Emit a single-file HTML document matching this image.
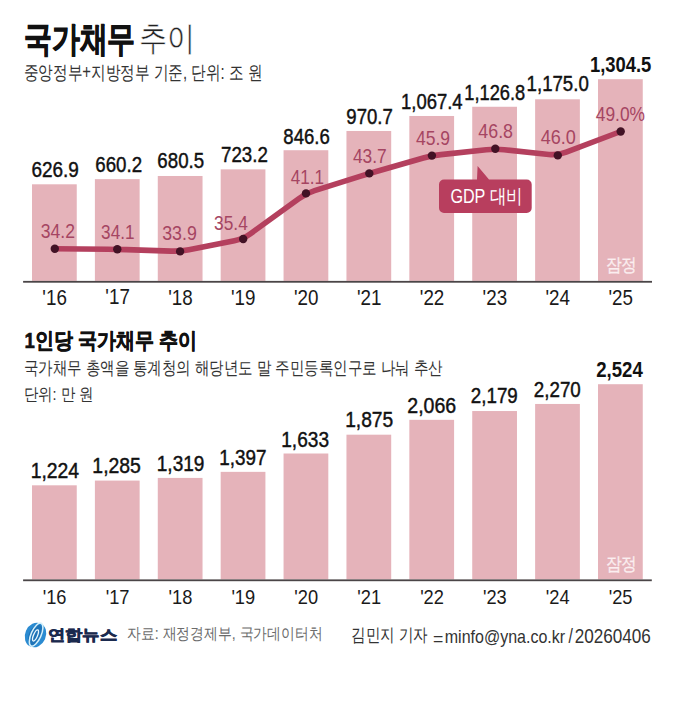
<!DOCTYPE html>
<html><head><meta charset="utf-8"><style>
html,body{margin:0;padding:0;background:#fff;}
svg{display:block;}
text{font-family:"Liberation Sans", sans-serif;}
</style></head><body>
<svg width="676" height="720" viewBox="0 0 676 720">
<rect width="676" height="720" fill="#fff"/>
<rect x="32.00" y="184.30" width="44.75" height="96.60" fill="#e5b3ba"/>
<rect x="94.89" y="179.14" width="44.75" height="101.76" fill="#e5b3ba"/>
<rect x="157.78" y="175.99" width="44.75" height="104.91" fill="#e5b3ba"/>
<rect x="220.67" y="169.36" width="44.75" height="111.54" fill="#e5b3ba"/>
<rect x="283.56" y="150.22" width="44.75" height="130.68" fill="#e5b3ba"/>
<rect x="346.45" y="130.97" width="44.75" height="149.93" fill="#e5b3ba"/>
<rect x="409.34" y="115.98" width="44.75" height="164.92" fill="#e5b3ba"/>
<rect x="472.23" y="106.76" width="44.75" height="174.14" fill="#e5b3ba"/>
<rect x="535.12" y="99.29" width="44.75" height="181.61" fill="#e5b3ba"/>
<rect x="598.01" y="79.20" width="44.75" height="201.70" fill="#e5b3ba"/>
<rect x="23.1" y="280.90" width="628.9" height="1.8" fill="#4a4547"/>
<rect x="32.00" y="485.31" width="44.75" height="94.09" fill="#e5b3ba"/>
<rect x="94.89" y="480.57" width="44.75" height="98.83" fill="#e5b3ba"/>
<rect x="157.78" y="477.92" width="44.75" height="101.48" fill="#e5b3ba"/>
<rect x="220.67" y="471.86" width="44.75" height="107.54" fill="#e5b3ba"/>
<rect x="283.56" y="453.50" width="44.75" height="125.90" fill="#e5b3ba"/>
<rect x="346.45" y="434.68" width="44.75" height="144.72" fill="#e5b3ba"/>
<rect x="409.34" y="419.83" width="44.75" height="159.57" fill="#e5b3ba"/>
<rect x="472.23" y="411.04" width="44.75" height="168.36" fill="#e5b3ba"/>
<rect x="535.12" y="403.96" width="44.75" height="175.44" fill="#e5b3ba"/>
<rect x="598.01" y="384.21" width="44.75" height="195.19" fill="#e5b3ba"/>
<rect x="23.1" y="579.40" width="628.7" height="1.8" fill="#4a4547"/>
<path d="M54.80,248.80 L108.30,249.23 Q117.30,249.30 126.29,249.60 L171.11,251.10 Q180.10,251.40 188.93,249.66 L234.37,240.74 Q243.20,239.00 250.48,233.71 L298.72,198.69 Q306.00,193.40 314.58,190.69 L360.72,176.11 Q369.30,173.40 377.96,170.94 L423.24,158.06 Q431.90,155.60 440.85,154.64 L486.35,149.76 Q495.30,148.80 504.25,149.75 L548.85,154.45 Q557.80,155.40 566.21,152.20 L620.70,131.50" fill="none" stroke="#b4405e" stroke-width="5.6" stroke-linejoin="round" stroke-linecap="round"/>
<circle cx="54.80" cy="248.80" r="4.2" fill="#421225"/><circle cx="117.30" cy="249.30" r="4.2" fill="#421225"/><circle cx="180.10" cy="251.40" r="4.2" fill="#421225"/><circle cx="243.20" cy="239.00" r="4.2" fill="#421225"/><circle cx="306.00" cy="193.40" r="4.2" fill="#421225"/><circle cx="369.30" cy="173.40" r="4.2" fill="#421225"/><circle cx="431.90" cy="155.60" r="4.2" fill="#421225"/><circle cx="495.30" cy="148.80" r="4.2" fill="#421225"/><circle cx="557.80" cy="155.40" r="4.2" fill="#421225"/><circle cx="620.70" cy="131.50" r="4.2" fill="#421225"/>
<path d="M444,179.5 H477 L477.6,166 L489,179.5 H526.7 a5,5 0 0 1 5,5 V208 a5,5 0 0 1 -5,5 H444 a5,5 0 0 1 -5,-5 V184.5 a5,5 0 0 1 5,-5 Z" fill="#b83e5e"/>
<g transform="translate(35.5 635) rotate(24)">
<ellipse cx="0" cy="0" rx="10.4" ry="12.6" fill="#2b8bd1"/>
<ellipse cx="-0.3" cy="0" rx="6.3" ry="11.0" fill="#1f74b8"/>
<ellipse cx="0.4" cy="-0.6" rx="5.0" ry="12.4" fill="none" stroke="#d6f1fb" stroke-width="1.5"/>
<ellipse cx="0.2" cy="0.4" rx="2.0" ry="6.0" fill="none" stroke="#e9f7fd" stroke-width="1.3"/>
</g>
<text x="23.83" y="50.80" font-size="35.0" textLength="111.44" lengthAdjust="spacingAndGlyphs" font-weight="bold" fill="#111" stroke="#111" stroke-width="0.9">국가채무</text>
<text x="138.93" y="49.75" font-size="34.2" textLength="56.29" lengthAdjust="spacingAndGlyphs" font-weight="normal" fill="#222" stroke="#fff" stroke-width="0.5">추이</text>
<text x="23.77" y="79.27" font-size="19.3" textLength="238.40" lengthAdjust="spacingAndGlyphs" font-weight="normal" fill="#333">중앙정부+지방정부 기준, 단위: 조 원</text>
<text x="31.45" y="177.24" font-size="22.2" textLength="47.45" lengthAdjust="spacingAndGlyphs" font-weight="normal" fill="#111" stroke="#111" stroke-width="0.45">626.9</text>
<text x="95.26" y="171.54" font-size="22.2" textLength="46.82" lengthAdjust="spacingAndGlyphs" font-weight="normal" fill="#111" stroke="#111" stroke-width="0.45">660.2</text>
<text x="157.37" y="167.94" font-size="22.2" textLength="46.73" lengthAdjust="spacingAndGlyphs" font-weight="normal" fill="#111" stroke="#111" stroke-width="0.45">680.5</text>
<text x="221.06" y="162.04" font-size="22.2" textLength="46.82" lengthAdjust="spacingAndGlyphs" font-weight="normal" fill="#111" stroke="#111" stroke-width="0.45">723.2</text>
<text x="283.36" y="143.54" font-size="22.2" textLength="46.43" lengthAdjust="spacingAndGlyphs" font-weight="normal" fill="#111" stroke="#111" stroke-width="0.45">846.6</text>
<text x="346.37" y="124.04" font-size="22.2" textLength="46.50" lengthAdjust="spacingAndGlyphs" font-weight="normal" fill="#111" stroke="#111" stroke-width="0.45">970.7</text>
<text x="401.02" y="109.04" font-size="22.2" textLength="61.57" lengthAdjust="spacingAndGlyphs" font-weight="normal" fill="#111" stroke="#111" stroke-width="0.45">1,067.4</text>
<text x="464.34" y="100.34" font-size="22.2" textLength="60.91" lengthAdjust="spacingAndGlyphs" font-weight="normal" fill="#111" stroke="#111" stroke-width="0.45">1,126.8</text>
<text x="526.61" y="91.44" font-size="22.2" textLength="62.17" lengthAdjust="spacingAndGlyphs" font-weight="normal" fill="#111" stroke="#111" stroke-width="0.45">1,175.0</text>
<text x="589.90" y="71.92" font-size="21.6" textLength="61.39" lengthAdjust="spacingAndGlyphs" font-weight="bold" fill="#111">1,304.5</text>
<text x="40.70" y="238.46" font-size="20.8" textLength="34.22" lengthAdjust="spacingAndGlyphs" font-weight="normal" fill="#a54562">34.2</text>
<text x="101.11" y="238.76" font-size="20.8" textLength="33.38" lengthAdjust="spacingAndGlyphs" font-weight="normal" fill="#a54562">34.1</text>
<text x="162.19" y="240.06" font-size="20.8" textLength="34.64" lengthAdjust="spacingAndGlyphs" font-weight="normal" fill="#a54562">33.9</text>
<text x="214.11" y="230.46" font-size="20.8" textLength="33.65" lengthAdjust="spacingAndGlyphs" font-weight="normal" fill="#a54562">35.4</text>
<text x="290.66" y="183.55" font-size="20.8" textLength="33.34" lengthAdjust="spacingAndGlyphs" font-weight="normal" fill="#a54562">41.1</text>
<text x="352.95" y="163.36" font-size="20.8" textLength="33.75" lengthAdjust="spacingAndGlyphs" font-weight="normal" fill="#a54562">43.7</text>
<text x="415.95" y="145.46" font-size="20.8" textLength="34.17" lengthAdjust="spacingAndGlyphs" font-weight="normal" fill="#a54562">45.9</text>
<text x="478.34" y="137.56" font-size="20.8" textLength="34.68" lengthAdjust="spacingAndGlyphs" font-weight="normal" fill="#a54562">46.8</text>
<text x="540.74" y="143.86" font-size="20.8" textLength="35.12" lengthAdjust="spacingAndGlyphs" font-weight="normal" fill="#a54562">46.0</text>
<text x="595.75" y="121.26" font-size="20.8" textLength="49.26" lengthAdjust="spacingAndGlyphs" font-weight="normal" fill="#a54562">49.0%</text>
<text x="42.37" y="304.52" font-size="21.6" textLength="24.49" lengthAdjust="spacingAndGlyphs" font-weight="normal" fill="#1a1a1a">'16</text>
<text x="105.35" y="304.30" font-size="21.6" textLength="24.49" lengthAdjust="spacingAndGlyphs" font-weight="normal" fill="#1a1a1a">'17</text>
<text x="168.15" y="304.52" font-size="21.6" textLength="24.49" lengthAdjust="spacingAndGlyphs" font-weight="normal" fill="#1a1a1a">'18</text>
<text x="231.04" y="304.52" font-size="21.6" textLength="24.49" lengthAdjust="spacingAndGlyphs" font-weight="normal" fill="#1a1a1a">'19</text>
<text x="293.93" y="304.52" font-size="21.6" textLength="24.49" lengthAdjust="spacingAndGlyphs" font-weight="normal" fill="#1a1a1a">'20</text>
<text x="356.91" y="304.52" font-size="21.6" textLength="24.49" lengthAdjust="spacingAndGlyphs" font-weight="normal" fill="#1a1a1a">'21</text>
<text x="419.80" y="304.52" font-size="21.6" textLength="24.49" lengthAdjust="spacingAndGlyphs" font-weight="normal" fill="#1a1a1a">'22</text>
<text x="482.60" y="304.52" font-size="21.6" textLength="24.49" lengthAdjust="spacingAndGlyphs" font-weight="normal" fill="#1a1a1a">'23</text>
<text x="545.39" y="304.52" font-size="21.6" textLength="24.49" lengthAdjust="spacingAndGlyphs" font-weight="normal" fill="#1a1a1a">'24</text>
<text x="608.38" y="304.52" font-size="21.6" textLength="24.49" lengthAdjust="spacingAndGlyphs" font-weight="normal" fill="#1a1a1a">'25</text>
<text x="605.60" y="271.20" font-size="18.4" textLength="31.46" lengthAdjust="spacingAndGlyphs" font-weight="normal" fill="#fbeef0" stroke="#fbeef0" stroke-width="0.3">잠정</text>
<text x="450.38" y="203.12" font-size="19.5" textLength="72.32" lengthAdjust="spacingAndGlyphs" font-weight="normal" fill="#fff">GDP 대비</text>
<text x="24.56" y="347.62" font-size="21.6" textLength="172.42" lengthAdjust="spacingAndGlyphs" font-weight="bold" fill="#111" stroke="#111" stroke-width="0.6">1인당 국가채무 추이</text>
<text x="23.69" y="374.12" font-size="17.5" textLength="418.82" lengthAdjust="spacingAndGlyphs" font-weight="normal" fill="#333">국가채무 총액을 통계청의 해당년도 말 주민등록인구로 나눠 추산</text>
<text x="23.71" y="399.85" font-size="17.0" textLength="69.88" lengthAdjust="spacingAndGlyphs" font-weight="normal" fill="#333">단위: 만 원</text>
<text x="30.65" y="477.80" font-size="22.0" textLength="48.37" lengthAdjust="spacingAndGlyphs" font-weight="normal" fill="#111" stroke="#111" stroke-width="0.45">1,224</text>
<text x="92.35" y="473.20" font-size="22.0" textLength="48.58" lengthAdjust="spacingAndGlyphs" font-weight="normal" fill="#111" stroke="#111" stroke-width="0.45">1,285</text>
<text x="156.78" y="471.10" font-size="22.0" textLength="47.63" lengthAdjust="spacingAndGlyphs" font-weight="normal" fill="#111" stroke="#111" stroke-width="0.45">1,319</text>
<text x="219.19" y="465.10" font-size="22.0" textLength="47.20" lengthAdjust="spacingAndGlyphs" font-weight="normal" fill="#111" stroke="#111" stroke-width="0.45">1,397</text>
<text x="281.27" y="446.80" font-size="22.0" textLength="47.74" lengthAdjust="spacingAndGlyphs" font-weight="normal" fill="#111" stroke="#111" stroke-width="0.45">1,633</text>
<text x="345.16" y="427.40" font-size="22.0" textLength="48.05" lengthAdjust="spacingAndGlyphs" font-weight="normal" fill="#111" stroke="#111" stroke-width="0.45">1,875</text>
<text x="407.32" y="413.20" font-size="22.0" textLength="48.91" lengthAdjust="spacingAndGlyphs" font-weight="normal" fill="#111" stroke="#111" stroke-width="0.45">2,066</text>
<text x="470.86" y="403.20" font-size="22.0" textLength="46.93" lengthAdjust="spacingAndGlyphs" font-weight="normal" fill="#111" stroke="#111" stroke-width="0.45">2,179</text>
<text x="533.86" y="396.90" font-size="22.0" textLength="46.93" lengthAdjust="spacingAndGlyphs" font-weight="normal" fill="#111" stroke="#111" stroke-width="0.45">2,270</text>
<text x="596.24" y="377.20" font-size="22.0" textLength="46.50" lengthAdjust="spacingAndGlyphs" font-weight="bold" fill="#111">2,524</text>
<text x="42.71" y="603.90" font-size="21.0" textLength="23.81" lengthAdjust="spacingAndGlyphs" font-weight="normal" fill="#1a1a1a">'16</text>
<text x="105.69" y="603.69" font-size="21.0" textLength="23.81" lengthAdjust="spacingAndGlyphs" font-weight="normal" fill="#1a1a1a">'17</text>
<text x="168.49" y="603.90" font-size="21.0" textLength="23.81" lengthAdjust="spacingAndGlyphs" font-weight="normal" fill="#1a1a1a">'18</text>
<text x="231.38" y="603.90" font-size="21.0" textLength="23.81" lengthAdjust="spacingAndGlyphs" font-weight="normal" fill="#1a1a1a">'19</text>
<text x="294.27" y="603.90" font-size="21.0" textLength="23.81" lengthAdjust="spacingAndGlyphs" font-weight="normal" fill="#1a1a1a">'20</text>
<text x="357.25" y="603.90" font-size="21.0" textLength="23.81" lengthAdjust="spacingAndGlyphs" font-weight="normal" fill="#1a1a1a">'21</text>
<text x="420.14" y="603.90" font-size="21.0" textLength="23.81" lengthAdjust="spacingAndGlyphs" font-weight="normal" fill="#1a1a1a">'22</text>
<text x="482.94" y="603.90" font-size="21.0" textLength="23.81" lengthAdjust="spacingAndGlyphs" font-weight="normal" fill="#1a1a1a">'23</text>
<text x="545.74" y="603.90" font-size="21.0" textLength="23.81" lengthAdjust="spacingAndGlyphs" font-weight="normal" fill="#1a1a1a">'24</text>
<text x="608.72" y="603.90" font-size="21.0" textLength="23.81" lengthAdjust="spacingAndGlyphs" font-weight="normal" fill="#1a1a1a">'25</text>
<text x="605.60" y="569.90" font-size="18.4" textLength="31.46" lengthAdjust="spacingAndGlyphs" font-weight="normal" fill="#fbeef0" stroke="#fbeef0" stroke-width="0.3">잠정</text>
<text x="47.92" y="639.90" font-size="15.4" textLength="69.15" lengthAdjust="spacingAndGlyphs" font-weight="bold" fill="#1b2a4e" stroke="#1b2a4e" stroke-width="0.7">연합뉴스</text>
<text x="127.11" y="639.10" font-size="16.4" textLength="195.39" lengthAdjust="spacingAndGlyphs" font-weight="normal" fill="#6b6b6b">자료: 재정경제부, 국가데이터처</text>
<text x="351.19" y="641.22" font-size="17.9" textLength="76.71" lengthAdjust="spacingAndGlyphs" font-weight="normal" fill="#333">김민지 기자</text>
<text x="432.91" y="645.11" font-size="19.0" textLength="10.34" lengthAdjust="spacingAndGlyphs" font-weight="normal" fill="#333">=</text>
<text x="444.78" y="642.77" font-size="19.0" textLength="120.40" lengthAdjust="spacingAndGlyphs" font-weight="normal" fill="#333">minfo@yna.co.kr</text>
<text x="568.40" y="643.35" font-size="19.8" textLength="4.37" lengthAdjust="spacingAndGlyphs" font-weight="normal" fill="#333">/</text>
<text x="574.64" y="643.06" font-size="19.8" textLength="76.20" lengthAdjust="spacingAndGlyphs" font-weight="normal" fill="#333">20260406</text>
</svg>
</body></html>
